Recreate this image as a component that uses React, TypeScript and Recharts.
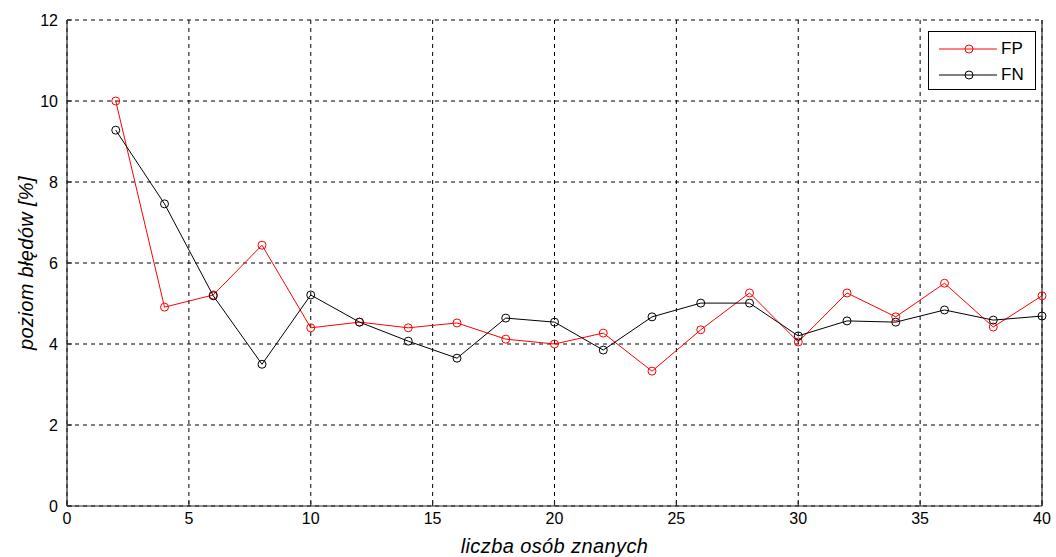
import { CartesianGrid, Legend, Line, LineChart, XAxis, YAxis } from "recharts"

const people = [2, 4, 6, 8, 10, 12, 14, 16, 18, 20, 22, 24, 26, 28, 30, 32, 34, 36, 38, 40]
const fpRate = [10.0, 4.91, 5.21, 6.44, 4.4, 4.54, 4.4, 4.52, 4.12, 4.0, 4.27, 3.33, 4.35, 5.26, 4.05, 5.26, 4.67, 5.5, 4.42, 5.19]
const fnRate = [9.28, 7.46, 5.19, 3.5, 5.21, 4.54, 4.07, 3.65, 4.64, 4.54, 3.85, 4.67, 5.01, 5.01, 4.2, 4.57, 4.54, 4.84, 4.59, 4.69]
const xTicks = [0, 5, 10, 15, 20, 25, 30, 35, 40]
const yTicks = [0, 2, 4, 6, 8, 10, 12]

const data = people.map((x, i) => ({ x, fp: fpRate[i], fn: fnRate[i] }))

const font = "'Liberation Sans', Arial, sans-serif"
const axisStroke = { stroke: "#262626", strokeWidth: 1.2 }

function LegendBox() {
  const rows = [
    { name: "FP", color: "#ff0000" },
    { name: "FN", color: "#000000" },
  ]
  return (
    <div
      style={{
        width: 108,
        height: 59,
        boxSizing: "border-box",
        border: "1px solid #000",
        background: "#fff",
        fontFamily: font,
        fontSize: 17,
        paddingTop: 4,
      }}
    >
      {rows.map((r) => (
        <div key={r.name} style={{ display: "flex", alignItems: "center", height: 26 }}>
          <svg width={72} height={14}>
            <line x1={10} x2={68} y1={7} y2={7} stroke={r.color} strokeWidth={1} />
            <circle cx={40} cy={7} r={4} fill="none" stroke={r.color} />
          </svg>
          <span style={{ color: "#000" }}>{r.name}</span>
        </div>
      ))}
    </div>
  )
}

function XLabel({ viewBox }: any) {
  const cx = viewBox.x + viewBox.width / 2
  return (
    <text
      x={cx}
      y={viewBox.y + 47}
      textAnchor="middle"
      fontFamily={font}
      fontSize={20}
      letterSpacing={0.4}
      fontStyle="italic"
      fill="#000"
    >
      liczba osób znanych
    </text>
  )
}

function YLabel({ viewBox }: any) {
  const cy = viewBox.y + viewBox.height / 2
  const cx = 26
  return (
    <text
      x={cx}
      y={cy}
      transform={`rotate(-90, ${cx}, ${cy})`}
      textAnchor="middle"
      dominantBaseline="central"
      fontFamily={font}
      fontSize={20}
      letterSpacing={0.35}
      fontStyle="italic"
      fill="#000"
    >
      poziom błędów [%]
    </text>
  )
}

export default function App() {
  const tickStyle = { fontSize: 16, fontFamily: font, fill: "#000" }
  return (
    <div style={{ position: "absolute", left: 0, top: 0, background: "#fff" }}>
      <LineChart width={1056} height={557} data={data} margin={{ top: 20, right: 0, bottom: 0, left: 0 }}>
        <CartesianGrid strokeDasharray="4 4" stroke="#000" strokeWidth={1} />
        <XAxis
          dataKey="x"
          type="number"
          domain={[0, 40]}
          ticks={xTicks}
          height={51}
          tickSize={-5}
          tickMargin={12}
          tick={tickStyle}
          tickLine={axisStroke}
          axisLine={axisStroke}
          label={<XLabel />}
        />
        <XAxis
          xAxisId="top"
          orientation="top"
          type="number"
          domain={[0, 40]}
          ticks={xTicks}
          height={0}
          tickSize={-5}
          tick={false}
          tickLine={axisStroke}
          axisLine={axisStroke}
        />
        <YAxis
          domain={[0, 12]}
          ticks={yTicks}
          width={67}
          tickSize={-5}
          tickMargin={14}
          tick={tickStyle}
          tickLine={axisStroke}
          axisLine={axisStroke}
          label={<YLabel />}
        />
        <YAxis
          yAxisId="right"
          orientation="right"
          domain={[0, 12]}
          ticks={yTicks}
          width={14}
          tickSize={-5}
          tick={false}
          tickLine={axisStroke}
          axisLine={axisStroke}
        />
        <Legend
          layout="horizontal"
          align="center"
          verticalAlign="middle"
          content={() => <LegendBox />}
          wrapperStyle={{ left: 928, top: 31, width: 108 }}
        />
        <Line
          dataKey="fp"
          name="FP"
          stroke="#ff0000"
          strokeWidth={1}
          dot={{ r: 4, fill: "none", stroke: "#ff0000", strokeWidth: 1 }}
          activeDot={false}
          isAnimationActive={false}
        />
        <Line
          dataKey="fn"
          name="FN"
          stroke="#000000"
          strokeWidth={1}
          dot={{ r: 4, fill: "none", stroke: "#000000", strokeWidth: 1 }}
          activeDot={false}
          isAnimationActive={false}
        />
      </LineChart>
    </div>
  )
}
